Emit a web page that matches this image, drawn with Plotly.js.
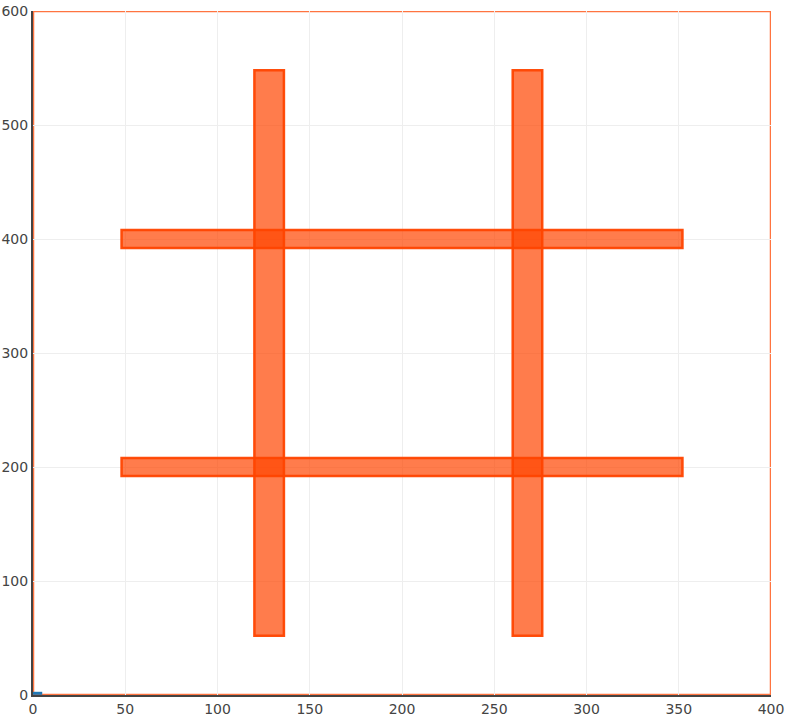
<!DOCTYPE html>
<html><head><meta charset="utf-8">
<script src="https://cdn.plot.ly/plotly-3.0.1.min.js"></script>
<style>body{margin:0;padding:0;}</style>
</head><body>
<div id="chart" style="width:791px;height:717px;"></div>
<script>
// small trace near origin
var traceX = [0, 5];
var traceY = [1.5, 1.5];
// vertical bars
var vBarsX0 = [120, 260];
var vBarsX1 = [136, 276];
var vBarsY0 = [52, 52];
var vBarsY1 = [548, 548];
// horizontal bars
var hBarsX0 = [48, 48];
var hBarsX1 = [352, 352];
var hBarsY0 = [192, 392];
var hBarsY1 = [208, 408];
var xRange = [0, 400];
var yRange = [0, 600];
var xTicks = [0, 50, 100, 150, 200, 250, 300, 350, 400];
var yTicks = [0, 100, 200, 300, 400, 500, 600];

var shapes = [];
shapes.push({type:'rect', xref:'x', yref:'y', x0:xRange[0], x1:xRange[1], y0:yRange[0], y1:yRange[1],
  line:{color:'rgba(255,69,0,0.75)', width:2.5}, layer:'below'});
function bar(x0,x1,y0,y1){
  return {type:'rect', xref:'x', yref:'y', x0:x0, x1:x1, y0:y0, y1:y1,
    fillcolor:'rgba(255,69,0,0.7)', line:{color:'rgba(255,69,0,0.95)', width:2.5}};
}
for (var i=0;i<hBarsX0.length;i++) shapes.push(bar(hBarsX0[i],hBarsX1[i],hBarsY0[i],hBarsY1[i]));
for (var i=0;i<vBarsX0.length;i++) shapes.push(bar(vBarsX0[i],vBarsX1[i],vBarsY0[i],vBarsY1[i]));

var data = [{x:traceX, y:traceY, mode:'lines', type:'scatter', line:{color:'#1f77b4', width:3}, showlegend:false, cliponaxis:false}];
var tf = {family:'DejaVu Sans, Verdana, sans-serif', size:14, color:'#444'};
var layout = {
  width:791, height:717,
  margin:{l:33, r:20, t:11, b:22, pad:0},
  paper_bgcolor:'white', plot_bgcolor:'white',
  font:tf,
  xaxis:{range:xRange, tickvals:xTicks, showline:true, linecolor:'#444', linewidth:2, zeroline:false, gridcolor:'#eee', tickfont:tf, ticks:'', layer:'above traces'},
  yaxis:{range:yRange, tickvals:yTicks, showline:true, linecolor:'#444', linewidth:2, zeroline:false, gridcolor:'#eee', tickfont:tf, ticks:'', layer:'above traces'},
  shapes:shapes,
  showlegend:false
};
Plotly.newPlot('chart', data, layout, {displayModeBar:false});
</script>
</body></html>
